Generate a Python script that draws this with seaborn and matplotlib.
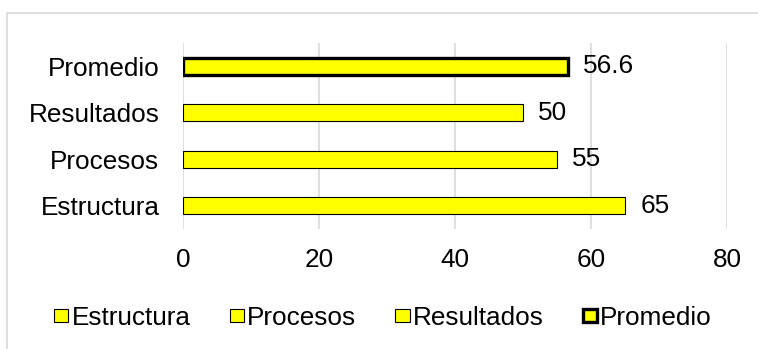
import matplotlib
matplotlib.use("Agg")
from matplotlib import pyplot as plt
from matplotlib.patches import Patch, Rectangle
import pandas as pd
import seaborn as sns

# datos del grafico
categorias = ["Promedio", "Resultados", "Procesos", "Estructura"]
valores = [56.6, 50, 55, 65]
orden_leyenda = ["Estructura", "Procesos", "Resultados", "Promedio"]
ticks_x = [0, 20, 40, 60, 80]

df = pd.DataFrame({"categoria": categorias, "valor": valores})

sns.set_style("white")
plt.rcParams["font.family"] = ["Liberation Sans", "DejaVu Sans"]
plt.rcParams["text.color"] = "black"
plt.rcParams["xtick.color"] = "black"
plt.rcParams["ytick.color"] = "black"
fs = 18.8

fig = plt.figure(figsize=(7.58, 3.49), dpi=100)
ax = fig.add_axes([183 / 758, 1 - 229 / 349, (727 - 183) / 758, (229 - 43) / 349])

amarillo = "#FFFF00"
sns.barplot(data=df, x="valor", y="categoria", hue="categoria",
            order=categorias, hue_order=orden_leyenda,
            palette={c: amarillo for c in categorias}, dodge=False,
            saturation=1, width=0.37, edgecolor="black", linewidth=0.8,
            errorbar=None, legend=False, ax=ax)

# borde grueso para el promedio
for cat, cont in zip(orden_leyenda, ax.containers):
    if cat == "Promedio":
        for p in cont:
            p.set_linewidth(2.4)
    ax.bar_label(cont, fmt="%g", padding=11, fontsize=fs, color="black")

ax.set_xlim(0, 80)
ax.set_xticks(ticks_x)
ax.set_xlabel("")
ax.set_ylabel("")
ax.xaxis.grid(True, color="#d9d9d9", lw=1.2)
ax.set_axisbelow(True)
for s in ax.spines.values():
    s.set_visible(False)
ax.tick_params(axis="x", length=0, pad=14, labelsize=fs, labelcolor="black")
ax.tick_params(axis="y", length=0, pad=17, labelsize=fs, labelcolor="black")

handles = [Patch(facecolor=amarillo, edgecolor="black",
                 lw=2.4 if c == "Promedio" else 0.8) for c in orden_leyenda]
fig.legend(handles, orden_leyenda, loc="center",
           bbox_to_anchor=(383 / 758, 1 - 318 / 349), ncol=4, frameon=False,
           fontsize=fs, handlelength=0.55, handleheight=0.4,
           handletextpad=0.12, columnspacing=1.5, labelcolor="black")

fig.add_artist(Rectangle((7 / 758, -0.1), 1.2, 1 - 13 / 349 + 0.1,
                         transform=fig.transFigure, fill=False,
                         edgecolor="#d9d9d9", lw=1.2))

fig.savefig("out.png", dpi=100)
